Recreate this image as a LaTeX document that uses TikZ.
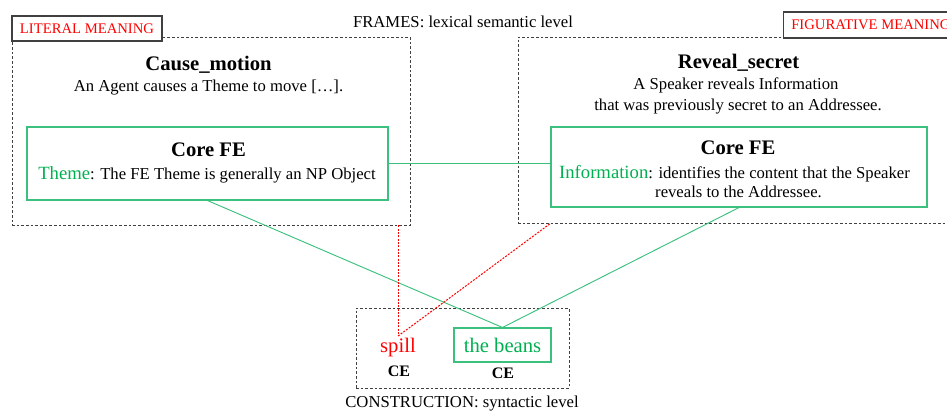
\documentclass[tikz,border=0pt]{standalone}
\usepackage{fontspec}
\setmainfont{Liberation Serif}
\usetikzlibrary{positioning}
\usepackage{xcolor}
\definecolor{fegreen}{HTML}{00B050}
\definecolor{felinegreen}{HTML}{3CC07E}
\definecolor{meaningred}{HTML}{FF0000}
\definecolor{framegray}{HTML}{404040}

\begin{document}
\begin{tikzpicture}[x=0.75pt, y=-0.75pt,
  frame/.style={draw=framegray, dash pattern=on 2pt off 1.5pt, line width=0.6pt},
  corebox/.style={draw=felinegreen, line width=0.8pt},
  tag/.style={draw=framegray, fill=white, line width=0.9pt, text=meaningred,
    font=\fontsize{11}{13}\selectfont},
  body/.style={font=\fontsize{12.5}{15}\selectfont, anchor=base},
  title/.style={font=\fontsize{15.5}{18}\selectfont\bfseries, anchor=base},
  feword/.style={font=\fontsize{15.5}{18}\selectfont, anchor=base},
  redlink/.style={draw=meaningred, dash pattern=on 1.5pt off 1pt, line width=0.75pt}]
  \useasboundingbox (0,0) rectangle (947,412);
  % Frames
  \node[frame, minimum width=298.5pt, minimum height=141pt] (litframe) at (211,131) {};
  \node[frame, minimum width=330pt, minimum height=139.5pt] (figframe) at (738,130) {};
  \node[tag, minimum width=112.5pt, minimum height=18.75pt] (littag) at (87,28.5) {LITERAL MEANING};
  \node[tag, minimum width=131pt, minimum height=19.5pt, anchor=west] (figtag) at (783,25) {FIGURATIVE MEANING};
  \node[body] (framelevel) at (463,27) {FRAMES: lexical semantic level};
  % Cause_motion
  \node[title] (littitle) at (208.5,70) {Cause\_motion};
  \node[body] (litdef) at (208.5,91) {An Agent causes a Theme to move […].};
  \node[corebox, minimum width=270.75pt, minimum height=54.75pt] (lcore) at (207.5,163.5) {};
  \node[title] (lcoretitle) at (208.5,156) {Core FE};
  \node[body] (lcoretext) at (207,179)
    {{\color{fegreen}\fontsize{14}{15}\selectfont Theme}: The FE Theme is generally an NP Object};
  % Reveal_secret
  \node[title] (figtitle) at (738.5,68) {Reveal\_secret};
  \node[body] (figdefa) at (736,89.5) {A Speaker reveals Information};
  \node[body] (figdefb) at (738,110) {that was previously secret to an Addressee.};
  \node[corebox, minimum width=282pt, minimum height=60pt] (rcore) at (739,167) {};
  \node[title] (rcoretitle) at (738,154.5) {Core FE};
  \node[body] (rcoretexta) at (734.5,178)
    {{\color{fegreen}\fontsize{14}{15}\selectfont Information}: identifies the content that the Speaker};
  \node[body] (rcoretextb) at (738.5,197) {reveals to the Addressee.};
  % Construction
  \node[frame, minimum width=159.75pt, minimum height=60pt] (cxn) at (462.5,348) {};
  \node[feword, text=meaningred, inner sep=1pt] (spill) at (398,352) {spill};
  \node[body, font=\fontsize{12}{14}\selectfont\bfseries] (spillce) at (399,376) {CE};
  \node[corebox, text=fegreen, font=\fontsize{15.5}{18}\selectfont,
    minimum width=72.75pt, minimum height=25.5pt] (beans) at (502.5,345) {the beans};
  \node[body, font=\fontsize{12}{14}\selectfont\bfseries] (beansce) at (503,378) {CE};
  \node[body] (cxnlevel) at (462,407) {CONSTRUCTION: syntactic level};
  % Links
  \draw[felinegreen, line width=0.7pt] (lcore.east) -- (lcore.east -| rcore.west);
  \draw[felinegreen, line width=0.7pt] (lcore.south) -- (beans.north);
  \draw[felinegreen, line width=0.7pt] (rcore.south) -- (beans.north);
  \draw[redlink] (spill.north |- litframe.south) -- (spill.north);
  \draw[redlink] (spill.north) -- (rcore.west |- figframe.south);
\end{tikzpicture}
\end{document}
